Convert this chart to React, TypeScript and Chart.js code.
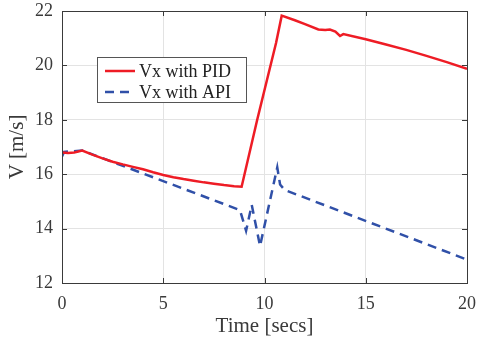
import React, { useEffect, useRef } from "react";
import { Chart, registerables } from "chart.js";

Chart.register(...registerables);

const pidTime = [0, 0.3, 0.6, 1.0, 1.5, 2, 2.5, 3, 3.5, 4, 4.5, 5, 5.5, 6, 6.5, 7, 7.5, 8, 8.5, 8.87, 9.64, 10.57, 10.85, 11.5, 12, 12.66, 13.0, 13.23, 13.5, 13.73, 13.89, 15, 16, 17, 18, 19, 20];
const pidV = [16.8, 16.78, 16.8, 16.87, 16.72, 16.58, 16.46, 16.36, 16.27, 16.18, 16.07, 15.97, 15.89, 15.82, 15.76, 15.7, 15.65, 15.6, 15.56, 15.54, 18.0, 20.82, 21.83, 21.66, 21.52, 21.32, 21.3, 21.32, 21.24, 21.08, 21.15, 20.96, 20.77, 20.57, 20.35, 20.12, 19.87];

const apiTime = [0, 0.1, 1.0, 8.79, 9.09, 9.37, 9.78, 10.63, 10.77, 11.0, 20];
const apiV = [16.65, 16.82, 16.87, 14.68, 13.92, 14.87, 13.36, 16.25, 15.62, 15.42, 12.86];

const xTicks = [0, 5, 10, 15, 20];
const yTicks = [12, 14, 16, 18, 20, 22];
const seriesLabels = ["Vx with PID", "Vx with API"];
const xTitle = "Time [secs]";
const yTitle = "V [m/s]";

const RED = "#ee1c25";
const BLUE = "#3050a8";
const FONT = "'Liberation Serif', 'Times New Roman', serif";
const TEXT = "#3a3a3a";
const AXIS = "#3a3a3a";

export default function App() {
  const ref = useRef<HTMLCanvasElement | null>(null);

  useEffect(() => {
    if (!ref.current) return;
    const framePlugin = {
      id: "frameAndLegend",
      afterDatasetsDraw(chart: any) {
        const ctx = chart.ctx;
        const { left, right, top, bottom } = chart.chartArea;
        const xs = chart.scales.x;
        const ys = chart.scales.y;
        ctx.save();
        ctx.strokeStyle = AXIS;
        ctx.lineWidth = 1;
        ctx.beginPath();
        const tl = 5;
        xTicks.forEach((t) => {
          const px = Math.round(xs.getPixelForValue(t)) + 0.5;
          ctx.moveTo(px, bottom);
          ctx.lineTo(px, bottom - tl);
          ctx.moveTo(px, top);
          ctx.lineTo(px, top + tl);
        });
        yTicks.forEach((t) => {
          const py = Math.round(ys.getPixelForValue(t)) + 0.5;
          ctx.moveTo(left, py);
          ctx.lineTo(left + tl, py);
          ctx.moveTo(right, py);
          ctx.lineTo(right - tl, py);
        });
        ctx.stroke();
        ctx.strokeRect(Math.round(left) + 0.5, Math.round(top) + 0.5, Math.round(right - left), Math.round(bottom - top));

        // legend
        const lx = left + 35;
        const ly = top + 46;
        const lw = 149;
        const lh = 45;
        ctx.fillStyle = "#ffffff";
        ctx.fillRect(lx, ly, lw, lh);
        ctx.strokeStyle = "#555555";
        ctx.strokeRect(lx + 0.5, ly + 0.5, lw, lh);
        const rows = [
          { color: RED, dash: [] as number[], label: seriesLabels[0] },
          { color: BLUE, dash: [9, 6], label: seriesLabels[1] },
        ];
        rows.forEach((r, i) => {
          const cy = ly + 14 + i * 21;
          ctx.strokeStyle = r.color;
          ctx.lineWidth = 2.5;
          ctx.setLineDash(r.dash);
          ctx.beginPath();
          ctx.moveTo(lx + 8, cy);
          ctx.lineTo(lx + 38, cy);
          ctx.stroke();
          ctx.setLineDash([]);
          ctx.fillStyle = "#222";
          ctx.font = `18px ${FONT}`;
          ctx.textBaseline = "middle";
          ctx.textAlign = "left";
          ctx.fillText(r.label, lx + 42, cy + 1);
        });
        ctx.restore();
      },
    };

    const chart = new Chart(ref.current, {
      type: "line",
      data: {
        datasets: [
          {
            label: seriesLabels[0],
            data: pidTime.map((t, i) => ({ x: t, y: pidV[i] })),
            borderColor: RED,
            borderWidth: 2.5,
            pointRadius: 0,
            tension: 0,
            fill: false,
          },
          {
            label: seriesLabels[1],
            data: apiTime.map((t, i) => ({ x: t, y: apiV[i] })),
            borderColor: BLUE,
            borderWidth: 2.5,
            borderDash: [9, 6],
            pointRadius: 0,
            tension: 0,
            fill: false,
          },
        ],
      },
      options: {
        responsive: false,
        animation: false,
        layout: { padding: { top: 11, right: 16, left: 0, bottom: 0 } },
        plugins: { legend: { display: false }, tooltip: { enabled: false } },
        scales: {
          x: {
            type: "linear",
            min: 0,
            max: 20,
            afterFit: (s: any) => {
              s.height = 60;
              s.paddingLeft = 0;
              s.paddingRight = 0;
            },
            afterBuildTicks: (s: any) => {
              s.ticks = xTicks.map((v) => ({ value: v }));
            },
            grid: { color: "#e3e3e3", drawTicks: false, lineWidth: 1 },
            border: { display: false },
            ticks: {
              padding: 10,
              color: TEXT,
              font: { family: FONT, size: 18 },
              maxRotation: 0,
            },
            title: {
              display: true,
              text: xTitle,
              color: TEXT,
              font: { family: FONT, size: 21 },
              padding: { top: 0, bottom: 4 },
            },
          },
          y: {
            type: "linear",
            min: 12,
            max: 22,
            afterFit: (s: any) => {
              s.width = 62;
              s.paddingTop = 0;
              s.paddingBottom = 0;
            },
            afterBuildTicks: (s: any) => {
              s.ticks = yTicks.map((v) => ({ value: v }));
            },
            grid: { color: "#e3e3e3", drawTicks: false, lineWidth: 1 },
            border: { display: false },
            ticks: {
              padding: 9,
              color: TEXT,
              font: { family: FONT, size: 18 },
            },
            title: {
              display: true,
              text: yTitle,
              color: TEXT,
              font: { family: FONT, size: 21 },
              padding: { top: 5, bottom: 0 },
            },
          },
        },
      },
      plugins: [framePlugin],
    } as any);
    return () => chart.destroy();
  }, []);

  return (
    <div style={{ position: "fixed", left: 0, top: 0, width: 483, height: 343, background: "#fff" }}>
      <canvas ref={ref} width={483} height={343} style={{ display: "block" }} />
    </div>
  );
}
